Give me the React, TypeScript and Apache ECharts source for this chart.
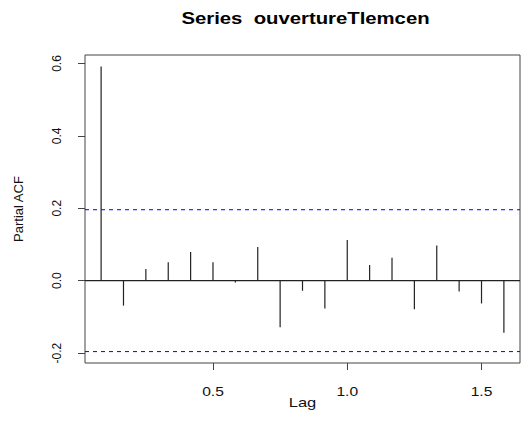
import { useEffect, useRef } from "react";
import * as echarts from "echarts";

// Lags (in years, monthly series) and partial autocorrelations
const lags = [
  1 / 12, 2 / 12, 3 / 12, 4 / 12, 5 / 12, 6 / 12, 7 / 12, 8 / 12, 9 / 12, 10 / 12,
  11 / 12, 12 / 12, 13 / 12, 14 / 12, 15 / 12, 16 / 12, 17 / 12, 18 / 12, 19 / 12,
];
const pacfValues = [
  0.592, -0.069, 0.032, 0.051, 0.079, 0.051, -0.005, 0.093, -0.129, -0.028,
  -0.077, 0.112, 0.043, 0.063, -0.079, 0.097, -0.03, -0.063, -0.144,
];
const confidenceLimit = 0.196;
const yTicks = [-0.2, 0.0, 0.2, 0.4, 0.6];
const xTicks = [0.5, 1.0, 1.5];
const titleText = "Series  ouvertureTlemcen";
const xName = "Lag";
const yName = "Partial ACF";

const FONT = "'Liberation Sans', Arial, Helvetica, sans-serif";
const STRETCH = 1.3;
const CI_BLUE = "#0000ff";

export default function App() {
  const ref = useRef<HTMLDivElement>(null);

  useEffect(() => {
    if (!ref.current) return;
    const chart = echarts.init(ref.current, null, { renderer: "svg" });

    // R-style 4% padding around the data range
    const yLo = Math.min(...pacfValues, -confidenceLimit);
    const yHi = Math.max(...pacfValues, confidenceLimit);
    const yPad = (yHi - yLo) * 0.04;
    const xLo = Math.min(...lags);
    const xHi = Math.max(...lags);
    const xPad = (xHi - xLo) * 0.04;

    const gridLeft = 85;
    const gridTop = 55;
    const gridWidth = 435;
    const gridHeight = 308;

    // horizontal reference lines: [level, dashed?]
    const refLines = [
      [0, 0],
      [confidenceLimit, 1],
      [-confidenceLimit, 1],
    ];

    chart.setOption({
      animation: false,
      backgroundColor: "#ffffff",
      grid: {
        left: gridLeft,
        top: gridTop,
        width: gridWidth,
        height: gridHeight,
        show: true,
        borderColor: "#444",
        borderWidth: 1,
        backgroundColor: "transparent",
      },
      xAxis: {
        type: "value",
        min: xLo - xPad,
        max: xHi + xPad,
        axisLine: { show: false, onZero: false },
        splitLine: { show: false },
        axisTick: {
          show: true,
          inside: false,
          length: 7,
          customValues: xTicks,
          lineStyle: { color: "#444", width: 1 },
        },
        axisLabel: { show: false },
      },
      yAxis: {
        type: "value",
        min: yLo - yPad,
        max: yHi + yPad,
        name: yName,
        nameLocation: "middle",
        nameRotate: 90,
        nameGap: 60,
        nameTextStyle: { fontFamily: FONT, fontSize: 13, color: "#111" },
        axisLine: { show: false, onZero: false },
        splitLine: { show: false },
        axisTick: {
          show: true,
          inside: false,
          length: 7,
          customValues: yTicks,
          lineStyle: { color: "#444", width: 1 },
        },
        axisLabel: {
          show: true,
          rotate: 90,
          margin: 22,
          customValues: yTicks,
          fontFamily: FONT,
          fontSize: 12,
          color: "#111",
          formatter: (v: number) => v.toFixed(1),
        },
      },
      series: [
        {
          type: "custom",
          z: 1,
          silent: true,
          data: refLines,
          renderItem: (params: any, api: any) => {
            const cs = params.coordSys;
            const y = api.coord([xLo, api.value(0)])[1];
            const dashed = api.value(1) === 1;
            return {
              type: "line",
              shape: { x1: cs.x, y1: y, x2: cs.x + cs.width, y2: y },
              style: dashed
                ? { stroke: CI_BLUE, lineWidth: 1, lineDash: [4, 4] }
                : { stroke: "#222", lineWidth: 1.2 },
            };
          },
        },
        {
          type: "custom",
          z: 2,
          silent: true,
          data: lags.map((l, i) => [l, pacfValues[i]]),
          renderItem: (_params: any, api: any) => {
            const base = api.coord([api.value(0), 0]);
            const tip = api.coord([api.value(0), api.value(1)]);
            return {
              type: "line",
              shape: { x1: base[0], y1: base[1], x2: tip[0], y2: tip[1] },
              style: { stroke: "#222", lineWidth: 1.2 },
            };
          },
        },
      ],
    });

    const bottom = gridTop + gridHeight;
    const centerX = gridLeft + gridWidth / 2;
    const tickLabels = xTicks.map((v) => ({
      type: "text",
      x: chart.convertToPixel({ xAxisIndex: 0 }, v) as number,
      y: bottom + 29,
      scaleX: STRETCH,
      style: {
        text: v.toFixed(1),
        font: `12px ${FONT}`,
        fill: "#111",
        textAlign: "center",
        textVerticalAlign: "middle",
      },
    }));

    chart.setOption({
      graphic: [
        {
          type: "text",
          x: centerX + 3,
          y: 18.5,
          scaleX: 1.27,
          style: {
            text: titleText,
            font: `bold 16px ${FONT}`,
            fill: "#000",
            textAlign: "center",
            textVerticalAlign: "middle",
          },
        },
        {
          type: "text",
          x: centerX,
          y: 403,
          scaleX: 1.27,
          style: {
            text: xName,
            font: `13px ${FONT}`,
            fill: "#111",
            textAlign: "center",
            textVerticalAlign: "middle",
          },
        },
        ...tickLabels,
      ],
    });

    return () => chart.dispose();
  }, []);

  return (
    <div
      ref={ref}
      style={{ position: "fixed", left: 0, top: 0, width: 521, height: 433, background: "#fff" }}
    />
  );
}
